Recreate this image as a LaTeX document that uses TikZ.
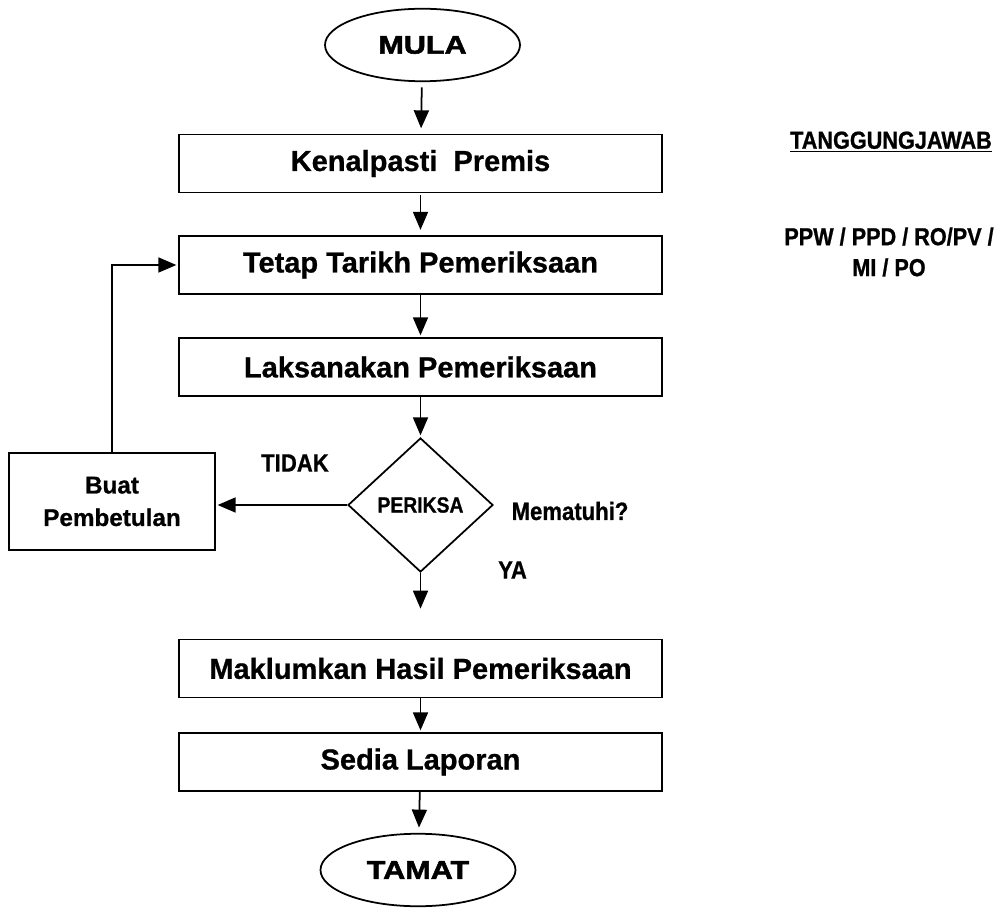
\documentclass[tikz,border=0pt]{standalone}
\usepackage{fontspec}
\setmainfont{Liberation Sans}[BoldFeatures={FakeBold=0.8}]
\newfontfamily\blackfont{Liberation Sans}[FakeStretch=1.2,BoldFeatures={FakeBold=2}]
\newfontfamily\narrowfont{Liberation Sans}[FakeStretch=0.88,BoldFeatures={FakeBold=0.8}]
\usetikzlibrary{arrows.meta,shapes.geometric}
\begin{document}
\begin{tikzpicture}[
	>={Triangle[length=3.6mm,width=3mm]},
	line width=1pt,
	stepbox/.style={draw, rectangle, minimum width=9.66cm, minimum height=1.16cm, inner sep=0pt,
		font=\fontsize{16.5}{19}\selectfont\bfseries},
	term/.style={draw, ellipse, minimum width=3.9cm, minimum height=1.45cm, inner sep=0pt,
		font=\blackfont\fontsize{14.5}{16}\selectfont\bfseries},
	decide/.style={draw, diamond, minimum width=2.9cm, minimum height=2.68cm, inner sep=0pt,
		font=\narrowfont\fontsize{12.5}{15}\selectfont\bfseries},
	lbl/.style={font=\narrowfont\fontsize{14.3}{16}\selectfont\bfseries},
	flow/.style={->, shorten >=1pt}
]
	\useasboundingbox (0,0) rectangle (20,-18.16);

	\node[term] (mula) at (8.45,-0.9) {MULA};
	\node[stepbox] (kenal) at (8.41,-3.27) {Kenalpasti\ \ Premis};
	\node[stepbox] (tetap) at (8.41,-5.3) {Tetap Tarikh Pemeriksaan};
	\node[stepbox] (laksana) at (8.41,-7.34) {Laksanakan Pemeriksaan};
	\node[decide] (periksa) at (8.41,-10.1) {PERIKSA};
	\node[stepbox] (maklum) at (8.41,-13.37) {Maklumkan Hasil Pemeriksaan};
	\node[stepbox] (sedia) at (8.41,-15.24) {Sedia Laporan};
	\node[term] (tamat) at (8.36,-17.4) {TAMAT};

	\node[draw, rectangle, minimum width=4.12cm, minimum height=1.94cm, align=center,
		font=\fontsize{13.8}{18.5}\selectfont\bfseries] (buat) at (2.24,-10.03) {Buat\\Pembetulan};

	\node[lbl] (tidak) at (5.9,-9.26) {TIDAK};
	\node[lbl] (patuh) at (11.4,-10.22) {Mematuhi?};
	\node[lbl] (ya) at (10.25,-11.4) {YA};

	\node[font=\narrowfont\fontsize{14}{17.6}\selectfont\bfseries] (tanggung) at (17.82,-2.84) {\underline{TANGGUNGJAWAB}};
	\node[font=\narrowfont\fontsize{14}{17.6}\selectfont\bfseries, align=center] (pegawai) at (17.78,-5.04) {PPW / PPD / RO/PV /\\MI / PO};

	\draw [flow, shorten <=3pt, shorten >=3pt] (mula) -- (kenal);
	\draw [flow, shorten <=1pt, shorten >=3pt] (kenal) -- (tetap);
	\draw [flow] (tetap) -- (laksana);
	\draw [flow] (laksana) -- (periksa);
	\draw [flow, shorten >=0.6cm] (periksa) -- (maklum);
	\draw [flow] (maklum) -- (sedia);
	\draw [flow, shorten >=3pt] (sedia) -- (tamat);
	\draw [flow] (periksa.west) -- (periksa.west -| buat.east);
	\draw [flow] (buat.north) |- (tetap.west);
\end{tikzpicture}
\end{document}
